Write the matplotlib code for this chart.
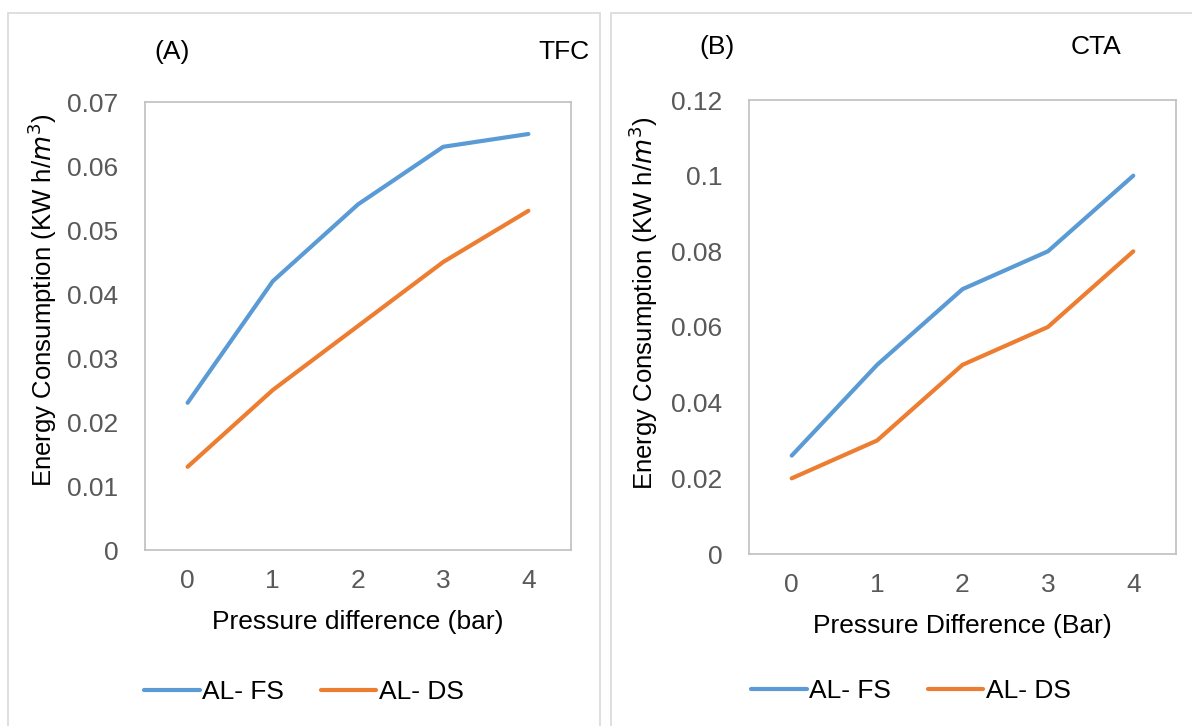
import matplotlib
matplotlib.use("Agg")
import matplotlib.pyplot as plt
import matplotlib.patches as patches

plt.rcParams['font.family'] = ['Liberation Sans', 'DejaVu Sans']

# data
pressure = [0, 1, 2, 3, 4]
tfc_fs = [0.023, 0.042, 0.054, 0.063, 0.065]
tfc_ds = [0.013, 0.025, 0.035, 0.045, 0.053]
cta_fs = [0.026, 0.050, 0.070, 0.080, 0.100]
cta_ds = [0.020, 0.030, 0.050, 0.060, 0.080]

C_FS = "#5B9BD5"
C_DS = "#ED7D31"
C_TICK = "#595959"
C_SPINE = "#BFBFBF"
FS = 19

W, H = 1192, 726
fig = plt.figure(figsize=(W / 100, H / 100), dpi=100)


def px_rect(x0, y0, x1, y1):
    # pixel box (top-left origin) -> figure fraction [l, b, w, h]
    return [x0 / W, 1 - y1 / H, (x1 - x0) / W, (y1 - y0) / H]


# panel frames
for x0, x1 in [(8, 600), (611, 1200)]:
    fr = patches.Rectangle((x0 / W, -0.05), (x1 - x0) / W, 1 - 13 / H + 0.05,
                           transform=fig.transFigure, fill=False,
                           edgecolor="#D9D9D9", lw=1.2, zorder=0)
    fig.add_artist(fr)


def draw_panel(rect, fs, ds, ymax, ystep, yfmt, xlabel, ylab_xy, tag, tag_xy, name, name_xy, leg_xy):
    ax = fig.add_axes(px_rect(*rect))
    ax.plot(pressure, fs, color=C_FS, lw=3, solid_capstyle='round', label="AL- FS")
    ax.plot(pressure, ds, color=C_DS, lw=3, solid_capstyle='round', label="AL- DS")
    ax.set_xlim(-0.5, 4.5)
    ax.set_ylim(0, ymax)
    n = int(round(ymax / ystep))
    yt = [i * ystep for i in range(n + 1)]
    ax.set_yticks(yt)
    ax.set_yticklabels([yfmt(v) for v in yt])
    ax.set_xticks(pressure)
    ax.tick_params(axis='both', length=0, labelsize=FS, colors=C_TICK)
    ax.tick_params(axis='y', pad=19)
    ax.tick_params(axis='x', pad=14)
    for s in ax.spines.values():
        s.set_color(C_SPINE)
        s.set_linewidth(1.2)
    ax.set_xlabel(xlabel, fontsize=FS, labelpad=12)
    ax.set_ylabel("Energy Consumption (KW h/$m^3$)", fontsize=18.5, va='center')
    x0, y0, x1, y1 = rect
    ax.yaxis.set_label_coords((ylab_xy[0] - x0) / (x1 - x0), (y1 - ylab_xy[1]) / (y1 - y0))
    fig.text(tag_xy[0] / W, 1 - tag_xy[1] / H, tag, fontsize=FS, ha='center', va='center')
    fig.text(name_xy[0] / W, 1 - name_xy[1] / H, name, fontsize=FS, ha='center', va='center')
    handles, labels = ax.get_legend_handles_labels()
    fig.legend(handles, labels, loc='center', bbox_to_anchor=(leg_xy[0] / W, 1 - leg_xy[1] / H),
               ncol=2, frameon=False, fontsize=FS, handlelength=2.1, handletextpad=0.1,
               columnspacing=1.4)
    return ax


def fmt_a(v):
    return "0" if v == 0 else f"{v:.2f}"


def fmt_b(v):
    if v == 0:
        return "0"
    return f"{v:.2f}".rstrip("0")


draw_panel((145, 102, 571, 550), tfc_fs, tfc_ds, 0.07, 0.01, fmt_a,
           "Pressure difference (bar)", (42, 300), "(A)", (172, 52), "TFC", (564, 52), (304, 692))
draw_panel((749, 100, 1176, 554), cta_fs, cta_ds, 0.12, 0.02, fmt_b,
           "Pressure Difference (Bar)", (643, 303), "(B)", (717, 47), "CTA", (1096, 47), (911, 691))

fig.savefig("out.png", dpi=100)
